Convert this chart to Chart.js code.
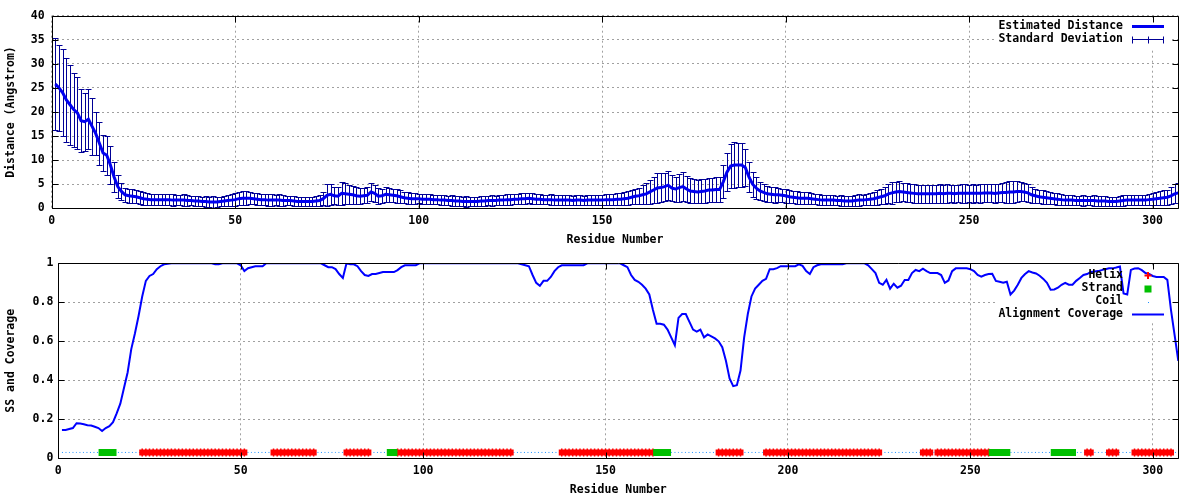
<!DOCTYPE html>
<html>
<head>
<meta charset="utf-8">
<script src="https://cdn.jsdelivr.net/npm/chart.js@4"></script>
<style>
  html, body { margin: 0; padding: 0; background: #fff; }
  canvas { display: block; }
</style>
</head>
<body>
<canvas id="chart-distance" width="1200" height="250"></canvas>
<canvas id="chart-coverage" width="1200" height="250"></canvas>
<script>
// estimated distance per residue (Angstrom), residues 1..307
const distance = [
  25.8, 25.0, 24.0, 22.5, 21.5, 20.5, 19.8, 18.2, 18.0, 18.5,
  17.0, 15.5, 13.5, 11.5, 11.0, 9.0, 6.5, 4.5, 3.5, 2.8,
  2.6, 2.5, 2.4, 2.2, 2.0, 1.9, 1.8, 1.8, 1.8, 1.8,
  1.8, 1.8, 1.7, 1.7, 1.7, 1.7, 1.6, 1.6, 1.5, 1.5,
  1.4, 1.4, 1.3, 1.3, 1.3, 1.4, 1.5, 1.6, 1.7, 1.8,
  2.0, 2.1, 2.1, 2.1, 2.0, 1.9, 1.8, 1.8, 1.7, 1.7,
  1.7, 1.7, 1.6, 1.6, 1.6, 1.5, 1.4, 1.4, 1.4, 1.4,
  1.4, 1.5, 1.6, 2.0, 2.7, 2.9, 2.6, 2.5, 3.1, 3.0,
  2.9, 2.8, 2.6, 2.5, 2.6, 2.7, 3.4, 3.1, 2.5, 2.6,
  2.9, 2.8, 2.7, 2.6, 2.4, 2.2, 2.1, 2.0, 2.0, 2.0,
  1.9, 1.9, 1.9, 1.8, 1.8, 1.7, 1.7, 1.6, 1.6, 1.5,
  1.5, 1.4, 1.4, 1.4, 1.4, 1.4, 1.5, 1.5, 1.6, 1.6,
  1.6, 1.7, 1.7, 1.8, 1.8, 1.9, 1.9, 2.0, 2.0, 2.1,
  2.0, 1.9, 1.9, 1.8, 1.8, 1.8, 1.7, 1.7, 1.7, 1.7,
  1.7, 1.6, 1.7, 1.7, 1.6, 1.7, 1.7, 1.7, 1.7, 1.7,
  1.8, 1.8, 1.8, 1.9, 1.9, 2.0, 2.1, 2.3, 2.5, 2.6,
  2.8, 3.0, 3.4, 3.8, 4.2, 4.3, 4.5, 4.8, 4.2, 4.0,
  4.3, 4.5, 4.0, 3.6, 3.5, 3.4, 3.5, 3.6, 3.8, 3.8,
  3.9, 3.9, 5.5, 7.5, 8.8, 9.0, 9.0, 9.0, 8.5, 6.5,
  5.0, 4.2, 3.6, 3.3, 3.0, 2.9, 2.8, 2.8, 2.7, 2.6,
  2.4, 2.3, 2.2, 2.1, 2.1, 2.1, 2.0, 1.9, 1.8, 1.7,
  1.7, 1.7, 1.7, 1.6, 1.6, 1.5, 1.5, 1.5, 1.6, 1.7,
  1.7, 1.8, 1.9, 2.0, 2.2, 2.4, 2.6, 3.0, 3.2, 3.4,
  3.5, 3.4, 3.3, 3.2, 3.1, 3.0, 3.0, 3.0, 3.0, 3.0,
  3.0, 3.1, 3.0, 3.1, 3.1, 3.0, 3.1, 3.1, 3.1, 3.1,
  3.1, 3.1, 3.1, 3.2, 3.2, 3.2, 3.1, 3.2, 3.3, 3.3,
  3.4, 3.4, 3.5, 3.5, 3.4, 3.2, 2.8, 2.6, 2.4, 2.3,
  2.2, 2.1, 2.0, 1.9, 1.8, 1.7, 1.7, 1.7, 1.6, 1.6,
  1.6, 1.6, 1.6, 1.6, 1.5, 1.5, 1.5, 1.4, 1.4, 1.4,
  1.5, 1.6, 1.7, 1.7, 1.7, 1.7, 1.7, 1.7, 1.8, 1.9,
  2.0, 2.1, 2.2, 2.3, 2.6, 3.0, 3.2
];

// standard deviation per residue
const deviation = [
  9.5, 9.0, 9.0, 8.7, 8.3, 7.7, 7.5, 6.5, 6.0, 6.2,
  6.0, 4.5, 4.5, 3.8, 4.0, 4.0, 3.1, 2.4, 1.8, 1.5,
  1.4, 1.5, 1.4, 1.4, 1.3, 1.3, 1.2, 1.2, 1.2, 1.2,
  1.2, 1.1, 1.2, 1.1, 1.1, 1.2, 1.1, 1.0, 1.1, 1.0,
  1.0, 1.1, 1.0, 1.2, 1.1, 1.0, 1.1, 1.2, 1.3, 1.3,
  1.3, 1.4, 1.4, 1.3, 1.2, 1.2, 1.1, 1.2, 1.3, 1.2,
  1.1, 1.2, 1.1, 1.0, 1.0, 1.1, 1.0, 0.9, 1.0, 1.0,
  0.9, 1.0, 1.2, 1.4, 2.3, 2.2, 1.8, 1.9, 2.4, 2.2,
  2.0, 1.9, 1.8, 1.7, 1.6, 1.7, 1.9, 1.8, 1.7, 1.5,
  1.6, 1.5, 1.4, 1.5, 1.3, 1.2, 1.2, 1.1, 1.1, 1.0,
  1.1, 1.0, 1.1, 1.0, 1.0, 1.1, 1.0, 1.0, 1.1, 1.0,
  1.0, 1.0, 1.1, 1.0, 1.0, 1.0, 1.1, 1.0, 1.0, 1.1,
  1.0, 1.1, 1.0, 1.1, 1.1, 1.0, 1.1, 1.2, 1.1, 1.1,
  1.1, 1.0, 1.1, 1.0, 1.0, 1.1, 1.0, 1.1, 1.0, 1.0,
  1.1, 1.0, 1.0, 1.1, 1.0, 1.0, 1.1, 1.1, 1.0, 1.1,
  1.1, 1.2, 1.1, 1.2, 1.3, 1.3, 1.4, 1.5, 1.6, 1.7,
  2.0, 2.2, 2.5, 2.8, 3.2, 3.0, 2.9, 3.0, 2.7, 2.6,
  2.9, 3.0, 2.7, 2.6, 2.5, 2.4, 2.5, 2.5, 2.4, 2.4,
  2.5, 2.6, 3.4, 4.0, 4.6, 4.7, 4.6, 4.5, 3.9, 3.2,
  2.6, 2.2, 1.9, 1.7, 1.6, 1.5, 1.6, 1.5, 1.4, 1.4,
  1.4, 1.3, 1.3, 1.2, 1.3, 1.2, 1.2, 1.1, 1.1, 1.1,
  1.1, 1.0, 1.1, 1.0, 1.1, 1.0, 1.0, 1.1, 1.1, 1.2,
  1.1, 1.2, 1.3, 1.3, 1.5, 1.6, 1.8, 2.0, 2.3, 2.0,
  2.1, 1.9, 1.9, 1.8, 1.9, 1.8, 1.9, 1.8, 1.8, 1.9,
  1.8, 1.9, 1.8, 1.9, 1.8, 1.9, 1.8, 1.9, 1.9, 1.8,
  1.9, 1.8, 1.9, 1.9, 1.8, 1.9, 2.0, 1.9, 2.0, 2.1,
  2.2, 2.3, 2.1, 2.0, 1.9, 1.8, 1.6, 1.5, 1.4, 1.4,
  1.3, 1.3, 1.2, 1.2, 1.1, 1.1, 1.0, 1.1, 1.0, 1.0,
  1.1, 1.0, 1.0, 1.1, 1.0, 1.0, 1.0, 0.9, 1.0, 1.0,
  1.0, 1.1, 1.0, 1.1, 1.0, 1.1, 1.0, 1.1, 1.1, 1.2,
  1.3, 1.4, 1.5, 1.6, 1.8, 2.0, 2.1
];

// alignment coverage per residue
const coverage = [
  0.145, 0.145, 0.15, 0.155, 0.18, 0.178, 0.175, 0.17, 0.168, 0.162,
  0.155, 0.14, 0.155, 0.165, 0.185, 0.23, 0.28, 0.36, 0.44, 0.56,
  0.64, 0.73, 0.83, 0.91, 0.935, 0.945, 0.97, 0.985, 0.995, 0.998,
  1, 1, 1, 1, 1, 1, 1, 1, 1, 1,
  1, 1, 0.995, 0.995, 1, 1, 1, 1, 1, 0.99,
  0.96, 0.975, 0.98, 0.985, 0.985, 0.985, 1, 1, 1, 1,
  1, 1, 1, 1, 1, 1, 1, 1, 1, 1,
  1, 1, 0.99, 0.98, 0.98, 0.97, 0.945, 0.925, 1, 0.995,
  0.995, 0.985, 0.96, 0.94, 0.935, 0.945, 0.945, 0.95, 0.955, 0.955,
  0.955, 0.955, 0.965, 0.98, 0.99, 0.99, 0.99, 0.99, 1, 1,
  1, 1, 1, 1, 1, 1, 1, 1, 1, 1,
  1, 1, 1, 1, 1, 1, 1, 1, 1, 1,
  1, 1, 1, 1, 1, 1, 0.995, 0.99, 0.985, 0.94,
  0.9, 0.885, 0.91, 0.91, 0.93, 0.96, 0.98, 0.99, 0.99, 0.99,
  0.99, 0.99, 0.99, 0.99, 1, 1, 1, 1, 1, 1,
  1, 1, 1, 1, 0.99, 0.98, 0.94, 0.915, 0.905, 0.89,
  0.87, 0.84, 0.76, 0.69, 0.69, 0.685, 0.66, 0.62, 0.58, 0.72,
  0.74, 0.74, 0.7, 0.66, 0.65, 0.66, 0.62, 0.635, 0.625, 0.615,
  0.6, 0.57, 0.5, 0.41, 0.37, 0.375, 0.45, 0.62, 0.74, 0.83,
  0.87, 0.89, 0.91, 0.92, 0.97, 0.97, 0.975, 0.985, 0.985, 0.985,
  0.985, 0.985, 0.995, 0.987, 0.96, 0.945, 0.98, 0.99, 0.995, 0.995,
  0.995, 0.995, 0.995, 0.995, 0.995, 1, 1, 1, 1, 1,
  1, 0.99, 0.97, 0.95, 0.9, 0.89, 0.915, 0.87, 0.895, 0.875,
  0.885, 0.914, 0.914, 0.95, 0.966, 0.96, 0.972, 0.96, 0.95, 0.95,
  0.95, 0.94, 0.9, 0.912, 0.96, 0.974, 0.974, 0.974, 0.974, 0.97,
  0.96, 0.94, 0.932, 0.94, 0.945, 0.946, 0.91, 0.905, 0.9, 0.905,
  0.84, 0.86, 0.89, 0.925, 0.945, 0.96, 0.953, 0.948, 0.936, 0.92,
  0.9, 0.865, 0.866, 0.875, 0.89, 0.9, 0.89, 0.89, 0.91, 0.925,
  0.94, 0.945, 0.955, 0.958, 0.96, 0.965, 0.97, 0.974, 0.974, 0.978,
  0.983, 0.845, 0.84, 0.966, 0.973, 0.975, 0.965, 0.95, 0.945, 0.935,
  0.93, 0.93, 0.93, 0.915, 0.76, 0.63, 0.5
];

// secondary structure segments (first, last residue)
const helixRanges = [[23, 51], [59, 70], [79, 85], [93, 124], [138, 163], [181, 187],
  [194, 225], [237, 239], [241, 255], [282, 283], [288, 290], [295, 305]];
const strandRanges = [[12, 15], [91, 92], [164, 167], [256, 260], [273, 278]];
const ssLevel = 0.03;

const residueTicks = [0, 50, 100, 150, 200, 250, 300];
const distanceTicks = [0, 5, 10, 15, 20, 25, 30, 35, 40];
const coverageTicks = [0, 0.2, 0.4, 0.6, 0.8, 1];

const residues = distance.map((_, i) => i + 1);
const FONT = '"DejaVu Sans Mono", monospace';
const tickFont = { family: FONT, size: 11.5, weight: 'bold' };

function inRanges(r, ranges) {
  return ranges.some(([a, b]) => r >= a && r <= b);
}
function ssPoints(test) {
  return residues.map(r => ({ x: r, y: test(r) ? ssLevel : null }));
}

// error bars drawn through the chart's scales
const errorBars = {
  id: 'errorBars',
  beforeDatasetsDraw(chart, args, opts) {
    const { ctx, chartArea, scales: { x, y } } = chart;
    ctx.save();
    ctx.beginPath();
    ctx.rect(chartArea.left, chartArea.top, chartArea.width, chartArea.height);
    ctx.clip();
    ctx.strokeStyle = opts.color;
    ctx.lineWidth = 1;
    ctx.beginPath();
    residues.forEach((r, i) => {
      const px = Math.round(x.getPixelForValue(r)) + 0.5;
      const top = Math.round(y.getPixelForValue(distance[i] + deviation[i])) + 0.5;
      const bot = Math.round(y.getPixelForValue(distance[i] - deviation[i])) + 0.5;
      ctx.moveTo(px, top); ctx.lineTo(px, bot);
      ctx.moveTo(px - 3, top); ctx.lineTo(px + 3, top);
      ctx.moveTo(px - 3, bot); ctx.lineTo(px + 3, bot);
    });
    ctx.stroke();
    ctx.restore();
  }
};

// gnuplot style frame with inward ticks
const frame = {
  id: 'frame',
  afterDraw(chart) {
    const { ctx, chartArea: a, scales: { x, y } } = chart;
    const L = Math.round(a.left) + 0.5, R = Math.round(a.right) + 0.5;
    const T = Math.round(a.top) + 0.5, B = Math.round(a.bottom) + 0.5;
    ctx.save();
    ctx.strokeStyle = '#000';
    ctx.lineWidth = 1;
    ctx.beginPath();
    ctx.rect(L, T, R - L, B - T);
    x.ticks.forEach(t => {
      const px = Math.round(x.getPixelForValue(t.value)) + 0.5;
      ctx.moveTo(px, B); ctx.lineTo(px, B - 6);
      ctx.moveTo(px, T); ctx.lineTo(px, T + 6);
    });
    y.ticks.forEach(t => {
      const py = Math.round(y.getPixelForValue(t.value)) + 0.5;
      ctx.moveTo(L, py); ctx.lineTo(L + 6, py);
      ctx.moveTo(R, py); ctx.lineTo(R - 6, py);
    });
    ctx.stroke();
    ctx.restore();
  }
};

// key in the top right corner: text right aligned, sample on its right
const gnuKey = {
  id: 'gnuKey',
  beforeDatasetsDraw(chart, args, opts) {
    const { ctx } = chart;
    const n = opts.items.length;
    ctx.save();
    ctx.fillStyle = '#fff';
    ctx.fillRect(opts.textRight - 127, opts.top - 8, 175, n * opts.rowHeight + 4);
    ctx.restore();
  },
  afterDraw(chart, args, opts) {
    const { ctx } = chart;
    ctx.save();
    ctx.font = 'bold 11.5px ' + FONT;
    ctx.textAlign = 'right';
    ctx.textBaseline = 'middle';
    opts.items.forEach((it, i) => {
      const yy = Math.round(opts.top + i * opts.rowHeight) + 0.5;
      ctx.fillStyle = '#000';
      ctx.fillText(it.text, opts.textRight, yy);
      const x0 = opts.textRight + 9, x1 = opts.textRight + 41, xm = (x0 + x1) / 2;
      ctx.strokeStyle = it.color;
      ctx.fillStyle = it.color;
      ctx.beginPath();
      if (it.kind === 'line') {
        ctx.lineWidth = it.width;
        ctx.moveTo(x0, yy); ctx.lineTo(x1, yy);
        ctx.stroke();
      } else if (it.kind === 'errorbar') {
        ctx.lineWidth = 1;
        ctx.moveTo(x0, yy); ctx.lineTo(x1, yy);
        ctx.moveTo(x0 + 0.5, yy - 3); ctx.lineTo(x0 + 0.5, yy + 4);
        ctx.moveTo(x1 - 0.5, yy - 3); ctx.lineTo(x1 - 0.5, yy + 4);
        ctx.moveTo(Math.round(xm) + 0.5, yy - 3); ctx.lineTo(Math.round(xm) + 0.5, yy + 4);
        ctx.stroke();
      } else if (it.kind === 'plus') {
        ctx.lineWidth = 2;
        ctx.moveTo(xm - 3.5, yy); ctx.lineTo(xm + 3.5, yy);
        ctx.moveTo(xm, yy - 3.5); ctx.lineTo(xm, yy + 3.5);
        ctx.stroke();
      } else if (it.kind === 'square') {
        ctx.fillRect(Math.round(xm) - 3.5, Math.round(yy) - 3.5, 7, 7);
      } else if (it.kind === 'dot') {
        ctx.fillRect(Math.round(xm), Math.round(yy), 1, 1);
      }
    });
    ctx.restore();
  }
};

function axisX(tickPad) {
  return {
    type: 'linear', min: 0, max: 307,
    afterBuildTicks: s => { s.ticks = residueTicks.map(v => ({ value: v })); },
    afterFit: s => { s.height = 41.7; },
    ticks: { color: '#000', font: tickFont, padding: tickPad, maxRotation: 0, callback: v => String(v) },
    grid: { color: '#a0a0a0', lineWidth: 1, drawTicks: false },
    border: { display: false, dash: [2, 3] },
    title: { display: true, text: 'Residue Number', color: '#000', font: tickFont, padding: { top: 0, bottom: 3 } }
  };
}
function axisY(ticks, width, title, tickPad, min, max) {
  return {
    type: 'linear', min: min, max: max,
    afterBuildTicks: s => { s.ticks = ticks.map(v => ({ value: v })); },
    afterFit: s => { s.width = width; },
    ticks: { color: '#000', font: tickFont, padding: tickPad, callback: v => String(v) },
    grid: { color: '#a0a0a0', lineWidth: 1, drawTicks: false },
    border: { display: false, dash: [2, 3] },
    title: { display: true, text: title, color: '#000', font: tickFont, padding: { top: 4, bottom: 0 } }
  };
}

const distanceChart = new Chart(document.getElementById('chart-distance'), {
  type: 'line',
  data: {
    datasets: [{
      label: 'Estimated Distance',
      data: residues.map((r, i) => ({ x: r, y: distance[i] })),
      borderColor: '#0000f0',
      borderWidth: 3,
      pointRadius: 0,
      tension: 0
    }]
  },
  options: {
    responsive: false,
    devicePixelRatio: 1,
    animation: false,
    layout: { padding: { left: 0, right: 21.7, top: 15.7, bottom: 0 } },
    scales: {
      x: axisX(6),
      y: axisY(distanceTicks, 51.7, 'Distance (Angstrom)', 7, 0, 40)
    },
    plugins: {
      legend: { display: false },
      tooltip: { enabled: false },
      errorBars: { color: '#000096' },
      gnuKey: {
        textRight: 1123, top: 26, rowHeight: 13,
        items: [
          { text: 'Estimated Distance', kind: 'line', color: '#0000f0', width: 3 },
          { text: 'Standard Deviation', kind: 'errorbar', color: '#000096' }
        ]
      }
    }
  },
  plugins: [errorBars, gnuKey, frame]
});

const coverageChart = new Chart(document.getElementById('chart-coverage'), {
  type: 'line',
  data: {
    datasets: [{
      label: 'Alignment Coverage',
      data: residues.map((r, i) => ({ x: r, y: coverage[i] })),
      borderColor: '#0000ff',
      borderWidth: 2,
      pointRadius: 0,
      tension: 0
    }, {
      label: 'Strand',
      data: ssPoints(r => inRanges(r, strandRanges)),
      borderColor: '#00c000',
      borderWidth: 7,
      borderCapStyle: 'square',
      pointRadius: 0,
      spanGaps: false
    }, {
      label: 'Helix',
      data: ssPoints(r => inRanges(r, helixRanges)),
      borderColor: '#ff0000',
      backgroundColor: '#ff0000',
      borderWidth: 6,
      borderCapStyle: 'square',
      pointStyle: 'line',
      rotation: 90,
      pointRadius: 4,
      pointBorderWidth: 1.5,
      pointBorderColor: '#ff0000',
      spanGaps: false
    }, {
      label: 'Coil',
      data: ssPoints(r => !inRanges(r, helixRanges) && !inRanges(r, strandRanges)),
      borderColor: '#1e90ff',
      borderWidth: 1,
      borderDash: [1, 2.5],
      pointRadius: 0,
      spanGaps: true
    }]
  },
  options: {
    responsive: false,
    devicePixelRatio: 1,
    animation: false,
    layout: { padding: { left: 0, right: 21.7, top: 13.3, bottom: 0 } },
    scales: {
      x: axisX(6),
      y: axisY(coverageTicks, 58.3, 'SS and Coverage', 5, 0, 1)
    },
    plugins: {
      legend: { display: false },
      tooltip: { enabled: false },
      gnuKey: {
        textRight: 1123, top: 24.5, rowHeight: 13,
        items: [
          { text: 'Helix', kind: 'plus', color: '#ff0000' },
          { text: 'Strand', kind: 'square', color: '#00c000' },
          { text: 'Coil', kind: 'dot', color: '#1e90ff' },
          { text: 'Alignment Coverage', kind: 'line', color: '#0000ff', width: 2 }
        ]
      }
    }
  },
  plugins: [gnuKey, frame]
});
</script>
</body>
</html>
